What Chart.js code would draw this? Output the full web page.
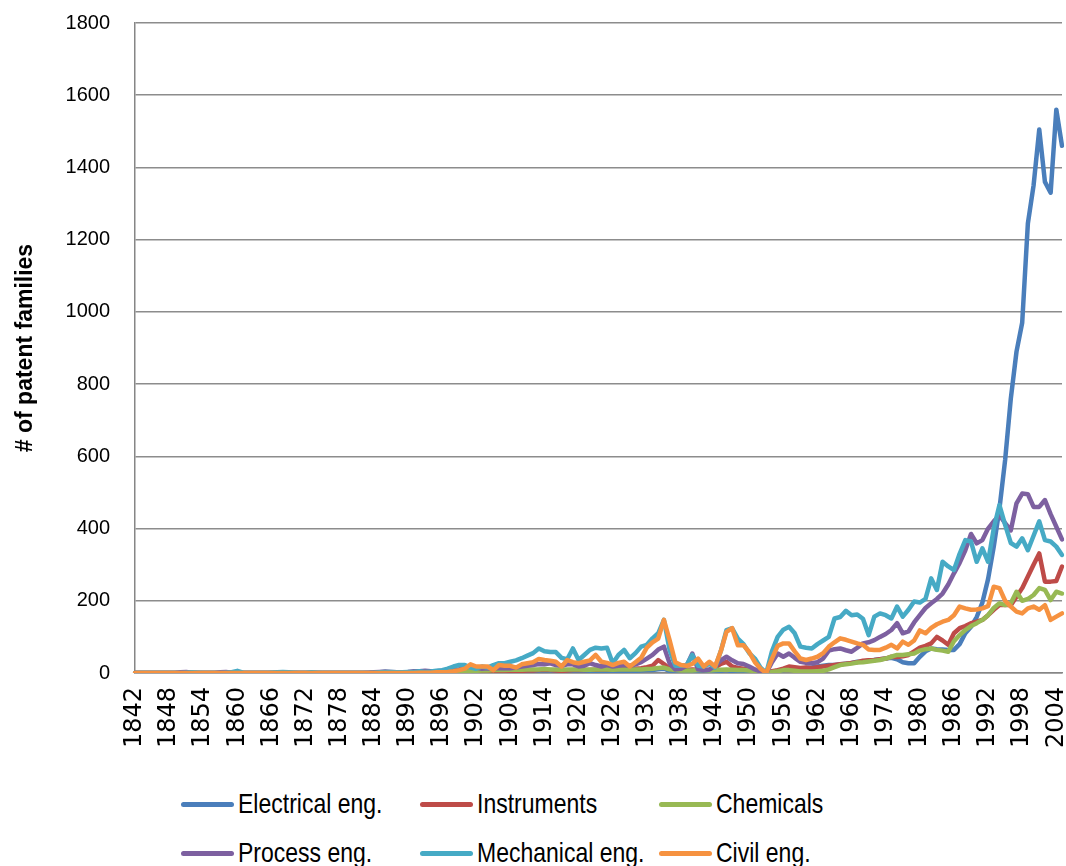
<!DOCTYPE html>
<html lang="en">
<head>
<meta charset="UTF-8">
<title>Patent families by field</title>
<script src="https://cdn.jsdelivr.net/npm/chart.js"></script>
<style>
    body { margin: 0; background: #fff; }
    .janela { position: relative; width: 1066px; height: 866px; }
    .grafico { position: absolute; left: 0; top: 0; width: 1066px; height: 775px; }
    .legenda-item {
        position: absolute; display: flex; align-items: center; height: 34px;
        font-family: 'Liberation Sans', sans-serif;
        font-size: 23px; color: #000; white-space: nowrap;
    }
    .legenda-item span.texto { display: inline-block; transform: scaleY(1.2); }
    .legenda-linha { width: 53px; height: 5px; border-radius: 3px; margin-right: 4px; }
</style>
</head>
<body>
<div class="janela">
    <div class="grafico"><canvas id="myChartCanvas"></canvas></div>
    <div id="legenda"></div>
</div>
<script>
    var firstYear = 1842;
    var lastYear = 2005;
    var years = [];
    for (var y = firstYear; y <= lastYear; y++) years.push(String(y));

    var seriesNames = ['Electrical eng.', 'Instruments', 'Chemicals', 'Process eng.', 'Mechanical eng.', 'Civil eng.'];
    var seriesColors = ['#4A7EBB', '#BE4B48', '#98B954', '#7D60A0', '#46AAC5', '#F69240'];
    var yTicks = [0, 200, 400, 600, 800, 1000, 1200, 1400, 1600, 1800];

    // one row per decade (first row 1842-1849, last row 2000-2005)
    var electrical = [
        0, 0, 0, 0, 0, 0, 0, 0,
        0, 0, 0, 0, 0, 0, 0, 0, 0, 0,
        0, 0, 0, 0, 0, 0, 0, 0, 0, 0,
        0, 0, 0, 0, 0, 0, 0, 0, 0, 0,
        0, 0, 0, 0, 0, 0, 0, 1, 1, 1,
        1, 1, 2, 1, 2, 2, 3, 2, 2, 3,
        3, 2, 3, 2, 3, 3, 4, 3, 4, 5,
        4, 5, 6, 5, 6, 5, 4, 3, 4, 5,
        6, 5, 4, 5, 6, 5, 4, 5, 6, 5,
        6, 7, 8, 8, 10, 12, 6, 4, 3, 4,
        5, 4, 3, 2, 3, 6, 8, 5, 4, 4,
        3, 2, 1, 0, 3, 6, 8, 10, 12, 12,
        14, 15, 18, 20, 22, 22, 24, 26, 28, 31,
        32, 34, 36, 38, 40, 42, 38, 30, 27, 27,
        45, 60, 68, 66, 65, 64, 64, 80, 110, 128,
        155, 195, 260, 350, 455, 590, 760, 890, 970, 1245,
        1350, 1505, 1360, 1330, 1560, 1460
    ];
    var instruments = [
        0, 0, 0, 0, 0, 0, 0, 0,
        0, 0, 0, 0, 0, 0, 0, 0, 0, 0,
        0, 0, 0, 0, 0, 0, 0, 0, 0, 0,
        0, 0, 0, 0, 0, 0, 0, 0, 0, 0,
        0, 0, 0, 0, 0, 1, 1, 1, 1, 1,
        1, 1, 1, 2, 2, 2, 2, 3, 3, 3,
        4, 4, 5, 4, 5, 5, 5, 6, 6, 6,
        6, 7, 7, 8, 8, 8, 7, 6, 7, 8,
        8, 8, 9, 9, 10, 10, 10, 11, 12, 11,
        12, 13, 16, 20, 36, 25, 12, 10, 8, 9,
        10, 9, 8, 10, 15, 25, 31, 18, 14, 12,
        10, 6, 3, 2, 5, 8, 12, 18, 16, 14,
        15, 14, 16, 18, 20, 22, 24, 26, 28, 30,
        34, 35, 36, 38, 40, 45, 44, 46, 50, 60,
        70, 75, 82, 100, 90, 78, 110, 124, 130, 138,
        142, 147, 160, 175, 188, 188, 188, 211, 235, 267,
        300, 331, 253, 253, 255, 295
    ];
    var chemicals = [
        0, 0, 0, 0, 0, 0, 0, 0,
        0, 0, 0, 0, 0, 0, 0, 0, 0, 0,
        0, 0, 0, 0, 0, 0, 0, 0, 0, 0,
        0, 0, 0, 0, 0, 0, 0, 0, 0, 0,
        0, 0, 0, 0, 0, 0, 0, 0, 0, 0,
        0, 0, 1, 1, 1, 2, 2, 3, 3, 4,
        5, 6, 6, 7, 7, 8, 8, 8, 9, 9,
        9, 10, 10, 10, 11, 10, 10, 9, 10, 10,
        10, 9, 9, 10, 10, 10, 9, 10, 10, 10,
        10, 10, 11, 12, 14, 15, 10, 8, 7, 7,
        7, 8, 8, 7, 8, 9, 10, 9, 8, 8,
        7, 5, 3, 1, 3, 5, 8, 8, 6, 4,
        4, 4, 5, 6, 10, 16, 22, 24, 26, 29,
        30, 32, 34, 36, 40, 45, 50, 50, 52, 54,
        62, 66, 68, 64, 62, 59, 88, 105, 119, 130,
        138, 147, 160, 180, 193, 188, 193, 225, 200, 205,
        216, 235, 230, 202, 225, 220
    ];
    var processEng = [
        0, 0, 0, 0, 0, 0, 0, 0,
        2, 3, 1, 0, 0, 0, 0, 2, 3, 1,
        0, 0, 0, 0, 0, 0, 0, 0, 0, 0,
        0, 0, 0, 0, 0, 0, 0, 0, 0, 0,
        0, 0, 0, 1, 2, 3, 4, 3, 2, 2,
        3, 5, 5, 6, 5, 5, 6, 6, 8, 10,
        16, 18, 15, 12, 13, 12, 14, 13, 13, 15,
        18, 20, 22, 25, 24, 27, 22, 20, 24, 24,
        18, 20, 27, 22, 18, 22, 18, 20, 22, 20,
        24, 30, 40, 50, 65, 73, 27, 10, 12, 20,
        54, 10, 8, 9, 20, 35, 45, 35, 27, 25,
        18, 10, 4, 0, 30, 54, 45, 54, 42, 31,
        28, 27, 30, 40, 62, 66, 68, 63, 59, 70,
        82, 85, 91, 100, 108, 119, 138, 110, 115, 140,
        160, 180, 193, 205, 220, 245, 276, 305, 340, 385,
        359, 368, 400, 420, 437, 415, 395, 470, 497, 495,
        460, 460, 479, 440, 405, 370
    ];
    var mechanical = [
        0, 0, 0, 0, 0, 0, 0, 0,
        0, 1, 2, 1, 0, 0, 0, 0, 1, 2,
        6, 1, 0, 0, 0, 0, 1, 2, 3, 2,
        1, 0, 0, 2, 1, 0, 0, 0, 0, 0,
        0, 0, 0, 0, 1, 2, 3, 3, 2, 2,
        3, 3, 5, 3, 4, 6, 8, 12, 18, 22,
        22, 15, 12, 18, 15, 22, 27, 27, 31, 35,
        41, 48, 55, 68, 60, 58, 58, 42, 38, 68,
        36, 50, 64, 70, 68, 70, 27, 50, 64, 41,
        55, 73, 78, 96, 110, 147, 64, 20, 20, 22,
        50, 20, 18, 25, 15, 60, 119, 124, 95, 80,
        55, 40, 15, 0, 60, 100, 120, 128, 110, 73,
        70, 68, 80, 90, 100, 151, 155, 172, 160, 162,
        150, 105, 156, 165, 160, 151, 184, 156, 175, 198,
        195, 205, 262, 230, 308, 295, 285, 330, 368, 364,
        308, 345, 308, 400, 465, 410, 360, 350, 373, 340,
        380, 420, 368, 364, 350, 327
    ];
    var civil = [
        0, 0, 0, 0, 0, 0, 0, 0,
        0, 0, 0, 0, 0, 0, 0, 0, 0, 0,
        0, 0, 0, 0, 0, 0, 0, 0, 0, 0,
        0, 0, 0, 0, 0, 0, 0, 0, 0, 0,
        0, 0, 0, 0, 0, 0, 0, 0, 0, 0,
        0, 0, 1, 1, 1, 2, 2, 3, 5, 8,
        12, 24, 18, 18, 18, 8, 22, 20, 20, 15,
        24, 27, 30, 39, 36, 34, 31, 18, 36, 30,
        27, 31, 35, 50, 31, 28, 22, 28, 31, 18,
        30, 42, 70, 85, 95, 147, 91, 30, 22, 20,
        25, 40, 18, 31, 18, 60, 114, 124, 77, 77,
        58, 30, 12, 0, 40, 75, 82, 82, 60, 40,
        36, 40, 45, 55, 73, 85, 96, 92, 87, 82,
        78, 65, 64, 64, 70, 78, 68, 87, 78, 90,
        118, 110, 125, 135, 142, 147, 160, 184, 179, 175,
        176, 179, 185, 239, 235, 200, 184, 170, 165, 179,
        184, 175, 188, 147, 156, 165
    ];

    var seriesData = [electrical, instruments, chemicals, processEng, mechanical, civil];

    function plotarGrafico() {
        var datasets = seriesData.map(function (values, i) {
            return {
                label: seriesNames[i],
                data: values,
                borderColor: seriesColors[i],
                backgroundColor: seriesColors[i],
                borderWidth: 4.5,
                borderJoinStyle: 'round',
                borderCapStyle: 'round',
                pointRadius: 0,
                tension: 0,
                fill: false,
                // excel draws the last series on top
                order: seriesNames.length - i
            };
        });

        var options = {
            responsive: true,
            maintainAspectRatio: false,
            animation: false,
            layout: { padding: { top: 23, right: 4, left: 0, bottom: 0 } },
            plugins: {
                legend: { display: false },
                tooltip: { enabled: false }
            },
            scales: {
                x: {
                    type: 'category',
                    offset: false,
                    grid: { display: false, drawTicks: false },
                    border: { display: true, color: '#868686', width: 1.5 },
                    ticks: {
                        autoSkip: false,
                        maxRotation: 90,
                        minRotation: 90,
                        padding: 14,
                        color: '#000',
                        font: { family: 'DejaVu Sans', size: 24 },
                        callback: function (value, index) {
                            return (Number(years[index]) - firstYear) % 6 === 0 ? years[index] : '';
                        }
                    },
                    afterFit: function (scale) {
                        scale.height = 102;
                        scale.paddingLeft = 0;
                        scale.paddingRight = 0;
                    }
                },
                y: {
                    min: yTicks[0],
                    max: yTicks[yTicks.length - 1],
                    afterBuildTicks: function (scale) {
                        scale.ticks = yTicks.map(function (v) { return { value: v }; });
                    },
                    grid: { color: '#8C8C8C', lineWidth: 1.5, drawTicks: false },
                    border: { display: true, color: '#868686', width: 1.5 },
                    ticks: {
                        padding: 25,
                        color: '#000',
                        font: { family: 'Liberation Sans', size: 20 },
                        callback: function (value) { return String(value); }
                    },
                    title: {
                        display: true,
                        text: '# of patent families',
                        color: '#000',
                        padding: { top: 12, bottom: 0 },
                        font: { family: 'Liberation Sans', size: 23, weight: 'bold' }
                    },
                    afterFit: function (scale) {
                        scale.width = 135;
                        scale.paddingTop = 0;
                        scale.paddingBottom = 0;
                    }
                }
            }
        };

        new Chart(document.getElementById('myChartCanvas'), {
            type: 'line',
            data: { labels: years, datasets: datasets },
            options: options
        });
    }

    function montarLegenda() {
        var box = document.getElementById('legenda');
        for (var i = 0; i < seriesNames.length; i++) {
            var item = document.createElement('div');
            item.className = 'legenda-item';
            item.style.left = (181 + (i % 3) * 239) + 'px';
            item.style.top = (787 + Math.floor(i / 3) * 49) + 'px';
            var linha = document.createElement('span');
            linha.className = 'legenda-linha';
            linha.style.background = seriesColors[i];
            var texto = document.createElement('span');
            texto.className = 'texto';
            texto.textContent = seriesNames[i];
            item.appendChild(linha);
            item.appendChild(texto);
            box.appendChild(item);
        }
    }

    plotarGrafico();
    montarLegenda();
</script>
</body>
</html>
